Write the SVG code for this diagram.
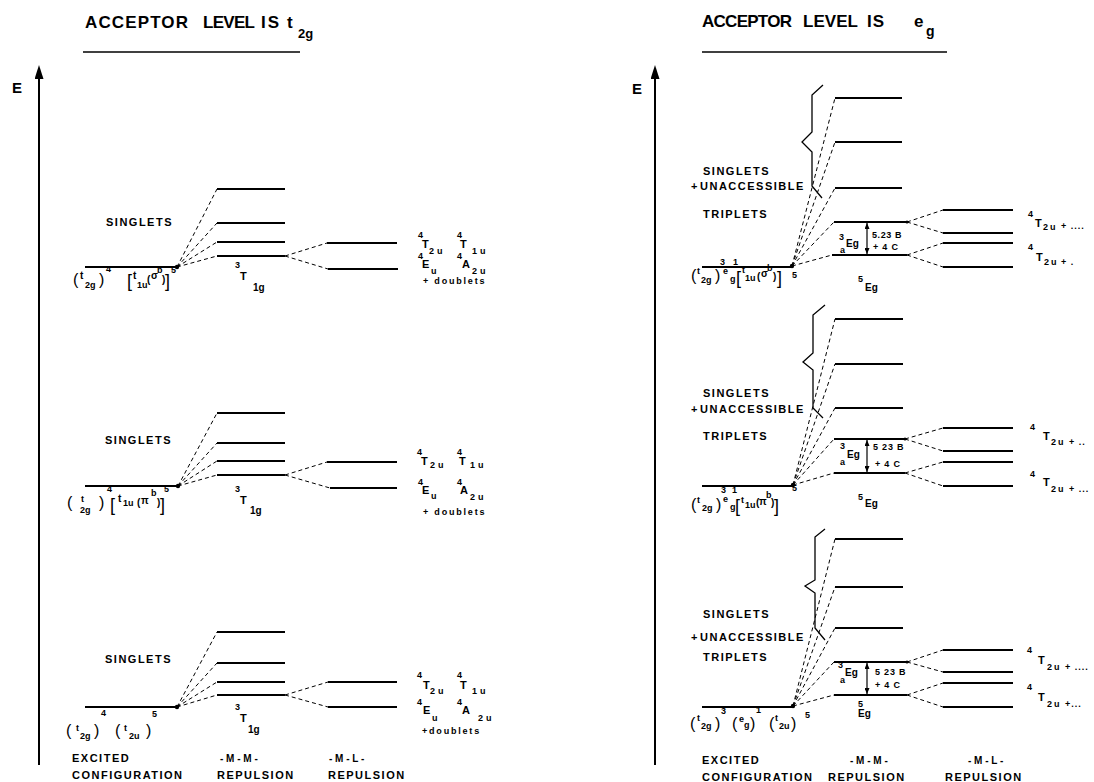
<svg xmlns="http://www.w3.org/2000/svg" width="1094" height="782" viewBox="0 0 1094 782">
<style>
text{font-family:"Liberation Sans",Arial,Helvetica,sans-serif;font-weight:bold;fill:#000}
.title{font-size:17px}
.ax{font-size:15px}
.lab{font-size:11px;letter-spacing:1.5px}
.c{font-size:10px}
.T{font-size:11px}
.s{font-size:9px}
.p{font-size:16px;font-weight:normal}
.b{font-size:18px;font-weight:normal}
.lv{stroke:#000;stroke-width:1.8;fill:none}
.dl{stroke:#000;stroke-width:1;stroke-dasharray:4 3;fill:none}
.axis{stroke:#000;stroke-width:2;fill:none}
.rule{stroke:#000;stroke-width:1.6;fill:none}
.br{stroke:#000;stroke-width:1.3;fill:none}
.gap{stroke:#000;stroke-width:1.2;fill:none}
.dot{fill:#000}
</style>
<defs>
<marker id="axHead" markerUnits="userSpaceOnUse" markerWidth="14" markerHeight="9" viewBox="0 0 14 9" refX="0" refY="4.5" orient="auto"><path d="M0,0L14,4.5L0,9z" fill="#000"/></marker>
<marker id="tip" markerUnits="userSpaceOnUse" markerWidth="6" markerHeight="5" viewBox="0 0 6 5" refX="6" refY="2.5" orient="auto-start-reverse"><path d="M0,0L6,2.5L0,5z" fill="#000"/></marker>
</defs>

<!-- headers and axes -->
<g id="header-left">
<text class="title" x="85" y="28" textLength="103" lengthAdjust="spacing">ACCEPTOR</text>
<text class="title" x="203" y="28" textLength="52" lengthAdjust="spacing">LEVEL</text>
<text class="title" x="261" y="28" textLength="18" lengthAdjust="spacing">IS</text>
<text class="title" x="287" y="28">t</text>
<text x="298" y="38" style="font-size:13px">2g</text>
<path class="rule" d="M83,52H300"/>
</g>
<g id="header-right">
<text class="title" x="702" y="27" textLength="90" lengthAdjust="spacing">ACCEPTOR</text>
<text class="title" x="803" y="27" textLength="55" lengthAdjust="spacing">LEVEL</text>
<text class="title" x="867" y="27" textLength="17" lengthAdjust="spacing">IS</text>
<text class="title" x="914" y="27">e</text>
<text x="926" y="36" style="font-size:14px">g</text>
<path class="rule" d="M702,52H947"/>
</g>
<g id="axis-left">
<path class="axis" d="M39,765V79" marker-end="url(#axHead)"/>
<text class="ax" x="12" y="93">E</text>
</g>
<g id="axis-right">
<path class="axis" d="M655,765V79" marker-end="url(#axHead)"/>
<text class="ax" x="632" y="94">E</text>
</g>

<!-- connectors -->
<g id="connectors">
<path class="dl" d="M177,267L217,189M177,267L217,223M177,267L217,242M177,267L217,256M285,256L327,243M285,256L328,269"/>
<path class="dl" d="M178,486L217,413M178,486L217,443M178,486L217,461M178,486L217,475M285,475L327,462M285,475L330,488"/>
<path class="dl" d="M177,707L217,632M177,707L217,663M177,707L217,682M177,707L217,695M285,695L328,682M285,695L328,707"/>
<path class="dl" d="M792,266L835,98M792,266L835,142M792,266L835,188M792,266L834,222M792,266L832,255M907,222L943,210M907,222L943,233M907,255L943,243M907,255L943,267"/>
<path class="dl" d="M793,485L835,319M793,485L835,364M793,485L835,408M793,485L834,439M793,485L834,473M905,439L943,428M905,439L943,451M905,473L943,462M905,473L943,486"/>
<path class="dl" d="M793,706L835,539M793,706L835,587M793,706L835,628M793,706L834,662M793,706L834,695M907,662L943,650M907,662L943,672M907,695L943,683M907,695L943,707"/>
</g>

<!-- LEFT PANEL: acceptor t2g -->
<g id="t2g-sigma-config">
<path class="lv" d="M85,267H177"/>
<circle class="dot" cx="177" cy="267" r="2.2"/>
<text class="c"><tspan class="p" x="73" y="285">(</tspan><tspan x="80" y="279">t</tspan><tspan class="s" x="85" y="288">2g</tspan><tspan class="p" x="99" y="285">)</tspan><tspan class="s" x="106" y="272">4</tspan><tspan class="b" x="127" y="287">[</tspan><tspan x="133" y="279">t</tspan><tspan class="s" x="137" y="288">1u</tspan><tspan x="147" y="283">(</tspan><tspan x="151" y="279">σ</tspan><tspan class="s" x="157" y="273">b</tspan><tspan x="162" y="283">)</tspan><tspan class="b" x="165" y="287">]</tspan><tspan class="s" x="171" y="273">5</tspan></text>
</g>
<g id="t2g-sigma-mm">
<path class="lv" d="M217,189H285M217,223H285M217,242H285M217,256H285"/>
<text class="lab" x="106" y="226">SINGLETS</text>
<text class="c"><tspan class="s" x="235" y="268">3</tspan><tspan class="T" x="240" y="280">T</tspan><tspan x="253" y="291">1g</tspan></text>
</g>
<g id="t2g-sigma-ml">
<path class="lv" d="M327,243H397M328,269H398"/>
<text class="T"><tspan class="s" x="418" y="238">4</tspan><tspan x="422" y="248">T</tspan><tspan class="s" x="429" y="254" letter-spacing="3">2u</tspan><tspan class="s" x="457" y="238">4</tspan><tspan x="460" y="248">T</tspan><tspan class="s" x="472" y="254" letter-spacing="3">1u</tspan><tspan class="s" x="418" y="259">4</tspan><tspan x="422" y="268">E</tspan><tspan class="s" x="431" y="274">u</tspan><tspan class="s" x="457" y="259">4</tspan><tspan x="462" y="268">A</tspan><tspan class="s" x="472" y="274" letter-spacing="3">2u</tspan></text>
<text class="s" x="423" y="284" letter-spacing="1.8">+ doublets</text>
</g>

<g id="t2g-pi-config">
<path class="lv" d="M85,486H178"/>
<circle class="dot" cx="178" cy="486" r="2.2"/>
<text class="c"><tspan class="p" x="67" y="508">(</tspan><tspan class="s" x="81" y="502">t</tspan><tspan class="s" x="80" y="513">2g</tspan><tspan class="p" x="99" y="508">)</tspan><tspan class="s" x="107" y="492">4</tspan><tspan class="b" x="110" y="511">[</tspan><tspan x="118" y="502">t</tspan><tspan class="s" x="123" y="506">1u</tspan><tspan x="137" y="506">(</tspan><tspan x="141" y="504">π</tspan><tspan class="s" x="151" y="496">b</tspan><tspan x="157" y="506">)</tspan><tspan class="b" x="160" y="511">]</tspan><tspan class="s" x="164" y="492">5</tspan></text>
</g>
<g id="t2g-pi-mm">
<path class="lv" d="M217,413H285M217,443H285M217,461H285M217,475H285"/>
<text class="lab" x="105" y="444">SINGLETS</text>
<text class="c"><tspan class="s" x="235" y="492">3</tspan><tspan class="T" x="240" y="504">T</tspan><tspan x="250" y="514">1g</tspan></text>
</g>
<g id="t2g-pi-ml">
<path class="lv" d="M327,462H397M330,488H397"/>
<text class="T"><tspan class="s" x="417" y="455">4</tspan><tspan x="421" y="465">T</tspan><tspan class="s" x="430" y="468" letter-spacing="3">2u</tspan><tspan class="s" x="457" y="455">4</tspan><tspan x="459" y="465">T</tspan><tspan class="s" x="470" y="468" letter-spacing="3">1u</tspan><tspan class="s" x="418" y="485">4</tspan><tspan x="422" y="494">E</tspan><tspan class="s" x="431" y="499">u</tspan><tspan class="s" x="457" y="485">4</tspan><tspan x="460" y="494">A</tspan><tspan class="s" x="470" y="500" letter-spacing="3">2u</tspan></text>
<text class="s" x="423" y="515" letter-spacing="1.8">+ doublets</text>
</g>

<g id="t2g-t2u-config">
<path class="lv" d="M85,707H177"/>
<circle class="dot" cx="177" cy="707" r="2.2"/>
<text class="c"><tspan class="p" x="66" y="736">(</tspan><tspan class="s" x="76" y="731">t</tspan><tspan class="s" x="80" y="739">2g</tspan><tspan class="p" x="94" y="736">)</tspan><tspan class="s" x="101" y="716">4</tspan><tspan class="p" x="115" y="736">(</tspan><tspan class="s" x="124" y="731">t</tspan><tspan class="s" x="129" y="739">2u</tspan><tspan class="p" x="146" y="736">)</tspan><tspan class="s" x="152" y="717">5</tspan></text>
</g>
<g id="t2g-t2u-mm">
<path class="lv" d="M217,632H285M217,663H285M217,682H285M217,695H285"/>
<text class="lab" x="105" y="663">SINGLETS</text>
<text class="c"><tspan class="s" x="235" y="710">3</tspan><tspan class="T" x="240" y="722">T</tspan><tspan x="248" y="733">1g</tspan></text>
</g>
<g id="t2g-t2u-ml">
<path class="lv" d="M328,682H397M328,707H397"/>
<text class="T"><tspan class="s" x="417" y="678">4</tspan><tspan x="423" y="689">T</tspan><tspan class="s" x="430" y="694" letter-spacing="3">2u</tspan><tspan class="s" x="457" y="678">4</tspan><tspan x="460" y="689">T</tspan><tspan class="s" x="472" y="694" letter-spacing="3">1u</tspan><tspan class="s" x="417" y="705">4</tspan><tspan x="423" y="714">E</tspan><tspan class="s" x="432" y="721">u</tspan><tspan class="s" x="457" y="705">4</tspan><tspan x="462" y="714">A</tspan><tspan class="s" x="478" y="721" letter-spacing="3">2u</tspan></text>
<text class="s" x="422" y="734" letter-spacing="1.8">+doublets</text>
</g>

<g id="footer-left">
<text class="lab" x="72" y="762" letter-spacing="1.3">EXCITED</text>
<text class="lab" x="72" y="779" letter-spacing="1.3">CONFIGURATION</text>
<text class="c" x="220" y="762">- M - M -</text>
<text class="lab" x="217" y="779" letter-spacing="1.6">REPULSION</text>
<text class="c" x="329" y="762">- M - L -</text>
<text class="lab" x="328" y="779" letter-spacing="1.6">REPULSION</text>
</g>

<!-- RIGHT PANEL: acceptor eg -->
<g id="eg-sigma-config">
<path class="lv" d="M702,267H792"/>
<circle class="dot" cx="792" cy="266" r="2.2"/>
<text class="c"><tspan class="p" x="691" y="281">(</tspan><tspan class="s" x="697" y="274">t</tspan><tspan class="s" x="701" y="283">2g</tspan><tspan class="p" x="715" y="281">)</tspan><tspan class="s" x="720" y="265">3</tspan><tspan class="s" x="723" y="274">e</tspan><tspan class="s" x="733" y="265">1</tspan><tspan class="s" x="730" y="282">g</tspan><tspan class="b" x="736" y="284">[</tspan><tspan class="s" x="742" y="273">t</tspan><tspan class="s" x="745" y="281">1u</tspan><tspan x="757" y="280">(</tspan><tspan x="761" y="277">σ</tspan><tspan class="s" x="767" y="271">b</tspan><tspan x="773" y="280">)</tspan><tspan class="b" x="777" y="284">]</tspan><tspan class="s" x="792" y="278">5</tspan></text>
</g>
<g id="eg-sigma-mm">
<path class="lv" d="M835,98H902M835,142H902M835,188H902M834,222H907M832,255H907"/>
<path class="br" d="M823,85L812,95V132L802,142L812,152V186L822,198"/>
<circle class="dot" cx="907" cy="222" r="1.5"/>
<path class="gap" d="M867,223V254" marker-start="url(#tip)" marker-end="url(#tip)"/>
<text class="lab" x="703" y="175">SINGLETS</text>
<text class="lab" x="691" y="190" letter-spacing="1">+</text>
<text class="lab" x="700" y="190" letter-spacing="1">UNACCESSIBLE</text>
<text class="lab" x="703" y="218">TRIPLETS</text>
<text class="c"><tspan class="s" x="839" y="240">3</tspan><tspan x="846" y="247">Eg</tspan><tspan class="s" x="840" y="253">a</tspan></text>
<text class="s" x="872" y="238" letter-spacing="0.6">5.23 B</text>
<text class="s" x="873" y="250" letter-spacing="0.8">+ 4 C</text>
<text class="c"><tspan class="s" x="858" y="282">5</tspan><tspan x="865" y="291">Eg</tspan></text>
</g>
<g id="eg-sigma-ml">
<path class="lv" d="M943,210H1013M943,233H1013M943,243H1013M943,267H1013"/>
<text class="T"><tspan class="s" x="1028" y="217">4</tspan><tspan x="1035" y="227">T</tspan><tspan class="s" x="1043" y="230" letter-spacing="2">2u</tspan><tspan class="s" x="1061" y="229" letter-spacing="1">+ ....</tspan><tspan class="s" x="1028" y="250">4</tspan><tspan x="1036" y="261">T</tspan><tspan class="s" x="1044" y="265" letter-spacing="2">2u</tspan><tspan class="s" x="1061" y="265" letter-spacing="1">+ .</tspan></text>
</g>

<g id="eg-pi-config">
<path class="lv" d="M702,486H793"/>
<circle class="dot" cx="793" cy="485" r="2.2"/>
<text class="c"><tspan class="p" x="691" y="510">(</tspan><tspan class="s" x="697" y="503">t</tspan><tspan class="s" x="702" y="511">2g</tspan><tspan class="p" x="716" y="510">)</tspan><tspan class="s" x="721" y="493">3</tspan><tspan class="s" x="723" y="502">e</tspan><tspan class="s" x="732" y="493">1</tspan><tspan class="s" x="730" y="510">g</tspan><tspan class="b" x="735" y="512">[</tspan><tspan class="s" x="741" y="503">t</tspan><tspan class="s" x="745" y="508">1u</tspan><tspan x="756" y="506">(</tspan><tspan x="759" y="505">π</tspan><tspan class="s" x="766" y="498">b</tspan><tspan x="771" y="506">)</tspan><tspan class="b" x="774" y="512">]</tspan><tspan class="s" x="792" y="491">5</tspan></text>
</g>
<g id="eg-pi-mm">
<path class="lv" d="M835,319H903M835,364H903M835,408H903M834,439H905M834,473H905"/>
<path class="br" d="M825,305L813,315V353L803,362L813,370V408L823,418"/>
<circle class="dot" cx="905" cy="439" r="1.5"/>
<path class="gap" d="M867,440V472" marker-start="url(#tip)" marker-end="url(#tip)"/>
<text class="lab" x="703" y="397">SINGLETS</text>
<text class="lab" x="691" y="413" letter-spacing="1">+</text>
<text class="lab" x="700" y="413" letter-spacing="1">UNACCESSIBLE</text>
<text class="lab" x="703" y="440">TRIPLETS</text>
<text class="c"><tspan class="s" x="840" y="449">3</tspan><tspan x="847" y="458">Eg</tspan><tspan class="s" x="840" y="465">a</tspan></text>
<text class="s" x="873" y="450" letter-spacing="0.8">5 23 B</text>
<text class="s" x="875" y="467" letter-spacing="0.8">+ 4 C</text>
<text class="c"><tspan class="s" x="858" y="500">5</tspan><tspan x="865" y="507">Eg</tspan></text>
</g>
<g id="eg-pi-ml">
<path class="lv" d="M943,428H1013M943,451H1013M943,462H1013M943,486H1013"/>
<text class="T"><tspan class="s" x="1030" y="430">4</tspan><tspan x="1043" y="440">T</tspan><tspan class="s" x="1051" y="445" letter-spacing="2">2u</tspan><tspan class="s" x="1069" y="445" letter-spacing="1">+ ..</tspan><tspan class="s" x="1030" y="477">4</tspan><tspan x="1043" y="486">T</tspan><tspan class="s" x="1051" y="492" letter-spacing="2">2u</tspan><tspan class="s" x="1069" y="492" letter-spacing="1">+ ...</tspan></text>
</g>

<g id="eg-t2u-config">
<path class="lv" d="M702,707H793"/>
<circle class="dot" cx="793" cy="706" r="2.2"/>
<text class="c"><tspan class="p" x="690" y="729">(</tspan><tspan class="s" x="697" y="721">t</tspan><tspan class="s" x="701" y="729">2g</tspan><tspan class="p" x="715" y="729">)</tspan><tspan class="s" x="721" y="714">3</tspan><tspan class="p" x="732" y="729">(</tspan><tspan class="s" x="739" y="722">e</tspan><tspan class="s" x="744" y="728">g</tspan><tspan class="p" x="750" y="729">)</tspan><tspan class="s" x="756" y="713">1</tspan><tspan class="p" x="769" y="729">(</tspan><tspan class="s" x="775" y="721">t</tspan><tspan class="s" x="779" y="729">2u</tspan><tspan class="p" x="791" y="729">)</tspan><tspan class="s" x="805" y="718">5</tspan></text>
</g>
<g id="eg-t2u-mm">
<path class="lv" d="M835,539H903M835,587H903M835,628H903M834,662H907M834,695H907"/>
<path class="br" d="M825,529L815,537V580L805,586L815,593V628L825,640"/>
<circle class="dot" cx="907" cy="662" r="1.5"/>
<path class="gap" d="M867,663V694" marker-start="url(#tip)" marker-end="url(#tip)"/>
<text class="lab" x="703" y="618">SINGLETS</text>
<text class="lab" x="691" y="641" letter-spacing="1">+</text>
<text class="lab" x="700" y="641" letter-spacing="1">UNACCESSIBLE</text>
<text class="lab" x="703" y="661">TRIPLETS</text>
<text class="c"><tspan class="s" x="838" y="668">3</tspan><tspan x="845" y="676">Eg</tspan><tspan class="s" x="840" y="683">a</tspan></text>
<text class="s" x="875" y="675" letter-spacing="0.8">5 23 B</text>
<text class="s" x="875" y="688" letter-spacing="0.8">+ 4 C</text>
<text class="c"><tspan class="s" x="858" y="707">5</tspan><tspan x="858" y="717">Eg</tspan></text>
</g>
<g id="eg-t2u-ml">
<path class="lv" d="M943,650H1013M943,672H1013M943,683H1013M943,707H1013"/>
<text class="T"><tspan class="s" x="1027" y="653">4</tspan><tspan x="1038" y="664">T</tspan><tspan class="s" x="1047" y="670" letter-spacing="2">2u</tspan><tspan class="s" x="1065" y="670" letter-spacing="1">+ ....</tspan><tspan class="s" x="1027" y="690">4</tspan><tspan x="1038" y="701">T</tspan><tspan class="s" x="1047" y="707" letter-spacing="2">2u</tspan><tspan class="s" x="1065" y="707" letter-spacing="1">+...</tspan></text>
</g>

<g id="footer-right">
<text class="lab" x="702" y="764" letter-spacing="1.3">EXCITED</text>
<text class="lab" x="702" y="781" letter-spacing="1.3">CONFIGURATION</text>
<text class="c" x="850" y="764">- M - M -</text>
<text class="lab" x="828" y="781" letter-spacing="1.7">REPULSION</text>
<text class="c" x="968" y="764">- M - L -</text>
<text class="lab" x="945" y="781" letter-spacing="1.6">REPULSION</text>
</g>
</svg>
